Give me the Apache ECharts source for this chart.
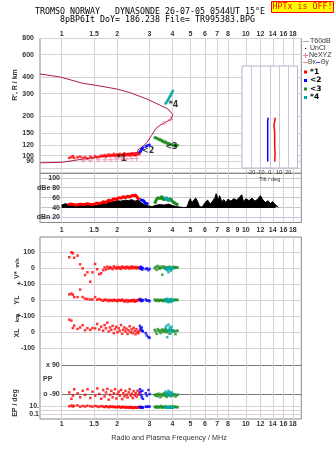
<!DOCTYPE html>
<html>
<head>
<meta charset="utf-8">
<script src="https://cdn.jsdelivr.net/npm/echarts@6.0.0/dist/echarts.min.js"></script>
<style>
html, body { margin: 0; padding: 0; background: #fff; }
#chart { width: 335px; height: 451px; }
</style>
</head>
<body>
<div id="chart"></div>
<script>
// axis ticks
var freqTicks = [1, 1.5, 2, 3, 4, 5, 6, 7, 8, 10, 12, 14, 16, 18];
var freqTicksMid = [1, 1.5, 2, 3, 4, 5, 6, 7, 8, 9, 10, 12, 14, 16, 18];
var heightTicks = [80, 90, 100, 120, 150, 200, 300, 400, 600, 800];
var ampTicks = [20, 40, 60, 80, 100];
var tiltTicks = [-20, -10, 0, 10, 20];

// R / R' profile line (MHz, km)
var profFreq = [0.763, 0.979, 1.305, 1.614, 1.995, 2.348, 2.903, 3.415, 3.774, 4.017, 3.917, 3.635, 3.415, 3.249, 3.078, 2.903, 2.727, 2.595, 2.578, 2.072, 1.614, 1.257, 1.004, 0.763];
var profHeight = [426, 404, 361, 344, 326, 306, 273, 245, 229, 207, 190, 180, 171, 162, 143, 126, 116, 111, 105.5, 102, 97.4, 93.2, 88.8, 87.9];

// NeXYZ markers
var neFreq = [1.31, 1.43, 1.58, 1.72, 1.85, 1.98, 2.12, 2.26, 2.4, 2.55, 3.6, 3.9];
var neHeight = [92, 92, 93, 93, 93, 94, 94, 94, 95, 95, 178, 190];

// echo mode 1 (red)
var m1Freq = [1.10, 1.13, 1.15, 1.17, 1.22, 1.26, 1.30, 1.34, 1.38, 1.43, 1.47, 1.52, 1.56, 1.60, 1.64, 1.68, 1.71, 1.74, 1.77, 1.80, 1.83, 1.86, 1.89, 1.92, 1.95, 1.98, 2.01, 2.04, 2.07, 2.10, 2.13, 2.16, 2.19, 2.22, 2.25, 2.28, 2.31, 2.34, 2.37, 2.40, 2.43, 2.46, 2.49, 2.52, 2.55, 2.58, 2.61, 2.64];
var m1Height = [96, 97, 99, 96, 97, 98, 96, 97, 95, 98, 96, 99, 97, 98, 100, 99, 101, 98, 100, 102, 99, 101, 100, 103, 99, 101, 102, 100, 103, 101, 99, 102, 104, 100, 102, 101, 103, 100, 102, 104, 101, 103, 102, 100, 104, 102, 105, 103];
var m1V = [69, 100, 94, 66, 79, 25, 0, -42, -25, -84, -25, 27, -6, -37, -31, -12, 5, -8, 10, -3, 8, 2, -5, 12, 4, -2, 9, 0, 6, -4, 11, 3, 7, -1, 10, 2, 8, -3, 5, 12, 0, 7, 3, 9, -2, 6, 4, 1];
var m1YL = [37, 42, 35, 20, 20, 67, 20, 10, 8, 5, 5, 20, 4, 8, 2, -3, 5, 0, 3, -5, 2, 0, -4, 4, -2, 1, -6, 3, 0, -3, 5, -1, -8, -2, 2, -10, -3, 0, -7, 1, -4, 3, -9, 0, -5, 2, -1, 4];
var m1XL = [79, 73, 27, 42, 21, 30, 44, 13, 26, 15, 27, 24, 52, 18, 35, 10, 45, 25, 60, 5, 30, 15, 40, -5, 20, 35, 0, 25, 10, 45, -8, 15, 30, 5, 22, -10, 12, 38, 0, 18, -5, 28, 8, -12, 20, 3, -6, 10];
var m1PP = [-80, -120, -100, -60, -85, -110, -70, -95, -60, -115, -75, -100, -55, -90, -120, -65, -105, -80, -58, -125, -95, -70, -110, -85, -60, -118, -90, -75, -100, -65, -122, -85, -105, -70, -95, -112, -80, -60, -100, -88, -115, -72, -98, -85, -108, -70, -95, -82];
var m1EP = [12, 18, 10, 15, 20, 8, 14, 10, 16, 12, 9, 14, 11, 8, 13, 10, 7, 12, 9, 6, 11, 8, 10, 7, 9, 6, 8, 10, 7, 5, 9, 6, 8, 5, 7, 6, 4.5, 8, 5, 7, 4, 6, 5, 7, 4.5, 6, 5, 8];

// echo mode 2 (blue)
var m2Freq = [2.66, 2.68, 2.70, 2.72, 2.74, 2.76, 2.86, 2.90, 2.96, 3.00];
var m2Height = [106, 108, 110, 112, 113, 115, 117, 119, 120, 121];
var m2V = [5, -3, 10, 0, -8, 2, -5, 0, -12, -3];
var m2YL = [8, 2, -5, 0, 3, -2, 5, -3, 0, -6];
var m2XL = [40, 25, 15, 30, 10, 5, -5, -20, -30, -35];
var m2PP = [-60, -75, -95, -110, -70, -120, -85, -100, -65, -90];
var m2EP = [8, 6, 5, 7, 5, 6, 9, 8, 10, 9];

// echo mode 3 (green)
var m3Freq = [3.20, 3.24, 3.28, 3.32, 3.36, 3.40, 3.44, 3.48, 3.52, 3.56, 3.60, 3.64, 3.68, 3.72, 3.76, 3.80, 3.85, 3.90, 3.95, 4.00, 4.05, 4.10, 4.15, 4.20, 4.26];
var m3Height = [137, 138, 136, 135, 133, 134, 131, 132, 128, 130, 127, 126, 128, 124, 125, 123, 124, 121, 122, 120, 121, 119, 120, 119, 120];
var m3V = [0, 8, -10, 15, 5, -3, 10, 2, -40, 12, 4, -2, 8, 0, 6, -4, 10, 3, -1, 5, 9, 2, 7, 4, 6];
var m3YL = [5, -3, 0, 4, -5, 2, -2, 3, 0, -6, 1, 4, -3, 0, 2, -4, 1, 3, -2, 0, 2, 4, 1, 3, 2];
var m3XL = [15, 5, -10, 20, 8, 12, -5, 10, 18, 2, 14, 6, 20, 0, 12, 8, -8, 15, 10, 4, 12, 6, -12, 8, 10];
var m3PP = [-95, -100, -92, -105, -88, -98, -110, -90, -100, -95, -85, -102, -96, -108, -90, -98, -94, -104, -88, -100, -96, -92, -106, -98, -94];
var m3EP = [8, 6, 12, 5, 7, 10, 6, 14, 5, 7, 9, 6, 11, 5, 7, 6, 9, 7, 5, 12, 6, 9, 7, 8, 6];

// echo mode 4 (teal)
var m4Freq = [3.66, 3.70, 3.74, 3.77, 3.80, 3.83, 3.86, 3.89, 3.92, 3.95, 3.98, 4.02];
var m4Height = [252, 256, 262, 267, 272, 278, 284, 289, 295, 302, 308, 316];
var m4V = [-5, 3, -12, 0, -25, 6, -8, 2, -15, 4, -3, 0];
var m4YL = [5, -8, 10, -3, -12, 2, -6, 8, -10, 0, 4, -4];
var m4XL = [25, 40, -30, 10, 48, 15, 30, -8, 20, 35, 5, 12];
var m4PP = [-75, -85, -95, -80, -70, -100, -90, -78, -88, -96, -82, -92];
var m4EP = [7, 6, 8, 5, 6, 7, 5, 8, 6, 7, 5, 6];

// amplitudes (dB)
var noiseFreq = [1.0, 1.05, 1.1, 1.15, 1.2, 1.25, 1.3, 1.35, 1.4, 1.45, 1.5, 1.55, 1.6, 1.65, 1.7, 1.75, 1.8, 1.85, 1.9, 1.95, 2.0, 2.1, 2.2, 2.3, 2.4, 2.5, 2.6, 2.7, 2.8, 2.9, 3.0, 3.1, 3.2, 3.4, 3.6, 3.8, 4.0, 4.2, 4.4, 4.6, 4.8, 4.9, 5.0, 5.1, 5.2, 5.35, 5.5, 5.6, 5.8, 6.0, 6.2, 6.4, 6.6, 6.8, 6.9, 7.1, 7.2, 7.4, 7.6, 7.8, 8.0, 8.3, 8.6, 8.9, 9.2, 9.5, 9.7, 10.0, 10.4, 10.8, 11.2, 11.6, 12.0, 12.4, 12.8, 13.2, 13.6, 14.0, 14.4, 14.8, 15.0];
var noiseDb = [45, 48, 44, 47, 46, 48, 44, 47, 45, 48, 46, 44, 47, 48, 50, 49, 52, 51, 53, 52, 54, 53, 55, 54, 56, 53, 55, 50, 46, 44, 43, 42, 44, 46, 45, 47, 44, 42, 41, 40, 41, 52, 58, 48, 55, 59, 50, 42, 41, 50, 55, 47, 53, 60, 68, 55, 64, 52, 56, 50, 57, 53, 58, 55, 60, 66, 52, 58, 54, 59, 53, 57, 64, 55, 50, 54, 48, 52, 46, 43, 40];
var amp1Freq = [1.08, 1.14, 1.2, 1.26, 1.32, 1.38, 1.44, 1.5, 1.56, 1.62, 1.68, 1.74, 1.8, 1.86, 1.92, 1.98, 2.04, 2.1, 2.16, 2.22, 2.28, 2.34, 2.4, 2.46, 2.52, 2.58, 2.64];
var amp1Db = [46, 47, 45, 47, 46, 48, 46, 47, 49, 48, 52, 50, 55, 53, 58, 56, 60, 59, 62, 60, 63, 61, 64, 62, 65, 60, 56];
var amp2Freq = [2.66, 2.72, 2.78, 2.84, 2.9, 2.96];
var amp2Db = [56, 52, 54, 49, 51, 47];
var amp3Freq = [3.2, 3.26, 3.32, 3.38, 3.44, 3.5, 3.56, 3.62, 3.7, 3.8, 3.9, 4.0, 4.1, 4.2, 4.3];
var amp3Db = [48, 55, 60, 62, 58, 63, 56, 60, 57, 55, 58, 52, 49, 47, 45];
var amp4Freq = [3.6, 3.66, 3.72, 3.78, 3.84, 3.9];
var amp4Db = [58, 62, 60, 55, 59, 54];

// tilt inset (deg, km)
var tiltXHeight = [194, 181, 170, 150, 120, 100, 89];
var tiltXDeg = [6.0, 5.3, 4.6, 5.3, 5.3, 5.8, 5.3];
var tiltYHeight = [194, 186, 150, 120, 89];
var tiltYDeg = [-1.6, -2.2, -2.2, -2.2, -2.2];

var FMIN = 0.763, FMAX = 20.0;
var RED = '#ff0000', BLUE = '#0000ff', GREEN = '#1e8c1e', TEAL = '#00a8a8';
var GRIDC = '#d8d0d6';
var FRAME = '#888888';
var lab = { fontSize: 7, fontWeight: 'bold', color: '#333', fontFamily: 'Liberation Sans' };

function pts(xs, ys) {
  return xs.map(function (x, i) { return [x, ys[i]]; });
}
function fmtF(v) { return String(+(+v).toFixed(2)); }

function freqAxis(gi, opts) {
  var ax = {
    type: 'log', logBase: 10, gridIndex: gi, min: FMIN, max: FMAX,
    axisLine: { show: false },
    axisTick: { show: false, customValues: freqTicks },
    axisLabel: { show: false },
    splitLine: { show: true, lineStyle: { color: GRIDC, width: 1 } },
    minorSplitLine: { show: false }
  };
  return Object.assign(ax, opts || {});
}

function scat(xi, yi, data, color, size) {
  return {
    type: 'scatter', xAxisIndex: xi, yAxisIndex: yi, data: data,
    symbol: 'rect', symbolSize: size || 2.5, itemStyle: { color: color },
    z: 4, silent: true
  };
}

var modes = [
  { f: m1Freq, h: m1Height, v: m1V, yl: m1YL, xl: m1XL, pp: m1PP, ep: m1EP, c: RED },
  { f: m2Freq, h: m2Height, v: m2V, yl: m2YL, xl: m2XL, pp: m2PP, ep: m2EP, c: BLUE },
  { f: m3Freq, h: m3Height, v: m3V, yl: m3YL, xl: m3XL, pp: m3PP, ep: m3EP, c: GREEN },
  { f: m4Freq, h: m4Height, v: m4V, yl: m4YL, xl: m4XL, pp: m4PP, ep: m4EP, c: TEAL }
];

var series = [];
// height panel
series.push({
  type: 'line', xAxisIndex: 0, yAxisIndex: 0, data: pts(profFreq, profHeight),
  showSymbol: false, lineStyle: { color: '#b01c48', width: 1 }, z: 3, silent: true
});
modes.forEach(function (m) {
  series.push(scat(0, 0, pts(m.f, m.h), m.c, 2.5));
});
series.push({
  type: 'scatter', xAxisIndex: 0, yAxisIndex: 0, data: pts(neFreq, neHeight),
  symbol: 'path://M2,0H3V2H5V3H3V5H2V3H0V2H2Z', symbolSize: 5,
  itemStyle: { color: '#f07aa0' }, z: 5, silent: true
});
series.push({
  type: 'scatter', xAxisIndex: 0, yAxisIndex: 0, symbolSize: 1,
  itemStyle: { color: 'rgba(0,0,0,0)' }, z: 6, silent: true,
  label: { show: true, position: 'inside', formatter: '{b}', color: '#000', fontSize: 8, fontWeight: 'bold', fontFamily: 'DejaVu Sans' },
  data: [
    { name: '*1', value: [2.116, 94.4] },
    { name: '<2', value: [2.95, 109] },
    { name: '<3', value: [3.95, 117] },
    { name: '*4', value: [4.05, 248] }
  ]
});
// amplitude panel
series.push({
  type: 'line', xAxisIndex: 1, yAxisIndex: 1, data: pts(noiseFreq, noiseDb),
  showSymbol: false, lineStyle: { color: '#000', width: 1 },
  areaStyle: { color: '#000', opacity: 1, origin: 39 }, z: 3, silent: true
});
[[amp1Freq, amp1Db, RED], [amp2Freq, amp2Db, BLUE], [amp3Freq, amp3Db, GREEN], [amp4Freq, amp4Db, TEAL]].forEach(function (a) {
  series.push({
    type: 'line', xAxisIndex: 1, yAxisIndex: 1, data: pts(a[0], a[1]),
    showSymbol: false, lineStyle: { color: a[2], width: 3 }, z: 4, silent: true
  });
});
// V*, YL, XL, PP, EP
modes.forEach(function (m) {
  series.push(scat(3, 3, pts(m.f, m.v), m.c));
  series.push(scat(4, 4, pts(m.f, m.yl), m.c));
  series.push(scat(5, 5, pts(m.f, m.xl), m.c));
  series.push(scat(6, 6, pts(m.f, m.pp), m.c));
  series.push(scat(7, 7, pts(m.f, m.ep), m.c));
});
// tilt inset
series.push({
  type: 'line', xAxisIndex: 8, yAxisIndex: 8, data: pts(tiltYDeg, tiltYHeight),
  showSymbol: false, lineStyle: { color: BLUE, width: 1.5 }, z: 6, silent: true
});
series.push({
  type: 'line', xAxisIndex: 8, yAxisIndex: 8, data: pts(tiltXDeg, tiltXHeight),
  showSymbol: false, lineStyle: { color: RED, width: 1.5 }, z: 6, silent: true
});

function vAxis(gi, min, max, ticks, fmt, opts) {
  var ax = {
    type: 'value', gridIndex: gi, min: min, max: max,
    axisLine: { show: false },
    axisTick: { show: false, customValues: ticks },
    axisLabel: Object.assign({ customValues: ticks, margin: 5, formatter: fmt }, lab),
    splitLine: { show: true, lineStyle: { color: GRIDC, width: 1 } }
  };
  return Object.assign(ax, opts || {});
}

function txt(x, y, s, o) {
  o = o || {};
  return {
    type: 'text', x: x, y: y, rotation: o.rot || 0, z: 10,
    style: {
      text: s, fill: o.color || '#333', align: o.align || 'left', verticalAlign: 'middle',
      fontSize: o.size || 7, fontWeight: o.weight || 'bold', fontFamily: o.family || 'Liberation Sans'
    }
  };
}

var mono = 'DejaVu Sans Mono';
var graphics = [
  txt(150, 12.3, 'TROMSO NORWAY   DYNASONDE 26-07-05 0544UT 15\u00b0E', { align: 'center', size: 8.3, weight: 'normal', family: mono, color: '#000' }),
  txt(157.5, 20.3, '8pBP6It DoY= 186.238 File= TR995383.BPG', { align: 'center', size: 8.3, weight: 'normal', family: mono, color: '#000' }),
  { type: 'rect', shape: { x: 271.5, y: 1.5, width: 62, height: 11 }, style: { fill: '#ffff00', stroke: '#ff0000', lineWidth: 1 }, z: 9 },
  txt(302.5, 7.3, 'HPTx is OFF!', { align: 'center', size: 8.3, weight: 'normal', family: mono, color: '#ff0000' }),
  txt(15, 85, "R', R / km", { align: 'center', rot: Math.PI / 2 }),
  txt(17, 275, 'V*', { align: 'center', rot: Math.PI / 2 }),
  txt(17, 263, 'm/s', { align: 'center', rot: Math.PI / 2, size: 5.5 }),
  txt(17, 300, 'YL', { align: 'center', rot: Math.PI / 2 }),
  txt(17, 318, 'km', { align: 'center', rot: Math.PI / 2, size: 6 }),
  txt(17, 333, 'XL', { align: 'center', rot: Math.PI / 2 }),
  txt(15, 403, 'EP / deg', { align: 'center', rot: Math.PI / 2 }),
  txt(43, 379.5, 'PP', {}),
  txt(169, 438.5, 'Radio and Plasma Frequency / MHz', { align: 'center', weight: 'normal', size: 7.2 }),
  // legend
  { type: 'line', shape: { x1: 303, y1: 41.5, x2: 309, y2: 41.5 }, style: { stroke: '#aaa', lineWidth: 1 }, z: 9 },
  txt(310, 41.5, 'T60dB', { weight: 'normal' }),
  { type: 'rect', shape: { x: 305, y: 48, width: 1, height: 1 }, style: { fill: '#000' }, z: 9 },
  txt(310, 48.5, 'UnCl', { weight: 'normal' }),
  { type: 'line', shape: { x1: 303, y1: 55.5, x2: 308, y2: 55.5 }, style: { stroke: '#f07aa0', lineWidth: 1 }, z: 9 },
  { type: 'line', shape: { x1: 305.5, y1: 53, x2: 305.5, y2: 58 }, style: { stroke: '#f07aa0', lineWidth: 1 }, z: 9 },
  txt(309, 55.5, 'NeXYZ', { weight: 'normal' }),
  { type: 'line', shape: { x1: 303, y1: 62.5, x2: 307, y2: 62.5 }, style: { stroke: '#f07aa0', lineWidth: 1 }, z: 9 },
  txt(307.5, 62.5, '\u0398x', { weight: 'normal', size: 6.5 }),
  { type: 'line', shape: { x1: 316, y1: 62.5, x2: 320, y2: 62.5 }, style: { stroke: '#4040ff', lineWidth: 1 }, z: 9 },
  txt(320.5, 62.5, '\u0398y', { weight: 'normal', size: 6.5 })
];
[['*1', RED, 72], ['<2', BLUE, 80.5], ['<3', GREEN, 89], ['*4', TEAL, 97.5]].forEach(function (l) {
  graphics.push({ type: 'rect', shape: { x: 304, y: l[2] - 1.5, width: 3, height: 3 }, style: { fill: l[1] }, z: 9 });
  graphics.push(txt(310, l[2], l[0], { family: 'DejaVu Sans', size: 7.5, color: '#000' }));
});

var option = {
  animation: false,
  backgroundColor: '#ffffff',
  grid: [
    { left: 40, right: 33.7, top: 38.5, height: 134.8, show: true, borderColor: FRAME, borderWidth: 1, backgroundColor: 'transparent' },
    { left: 40, right: 33.7, top: 173.3, height: 49.2, show: true, borderColor: FRAME, borderWidth: 1, backgroundColor: 'transparent' },
    { left: 40, right: 33.7, top: 237, height: 182, show: true, borderColor: FRAME, borderWidth: 1, backgroundColor: 'transparent' },
    { left: 40, right: 33.7, top: 237, height: 47.3 },
    { left: 40, right: 33.7, top: 284.3, height: 32 },
    { left: 40, right: 33.7, top: 316.3, height: 32 },
    { left: 61.7, right: 33.7, top: 360, height: 40.4 },
    { left: 40, right: 33.7, top: 400.4, height: 18.6 },
    { left: 242, right: 37.5, top: 66, height: 102, show: true, borderColor: '#b4b4cc', borderWidth: 1, backgroundColor: '#ffffff', z: 3 }
  ],
  xAxis: [
    freqAxis(0, { position: 'top', axisLabel: Object.assign({ show: true, customValues: freqTicks, margin: 1, formatter: fmtF }, lab) }),
    freqAxis(1, { position: 'bottom', axisLabel: Object.assign({ show: true, customValues: freqTicksMid, margin: 4, formatter: fmtF }, lab) }),
    freqAxis(2, { position: 'bottom', axisLabel: Object.assign({ show: true, customValues: freqTicks, margin: 2, formatter: fmtF }, lab) }),
    freqAxis(3, { show: false }),
    freqAxis(4, { show: false }),
    freqAxis(5, { show: false }),
    freqAxis(6, { show: false, min: 1.0 }),
    freqAxis(7, { show: false }),
    {
      type: 'value', gridIndex: 8, min: -30, max: 30, z: 3,
      axisLine: { show: false },
      axisTick: { show: false, customValues: tiltTicks },
      axisLabel: { customValues: tiltTicks, margin: 1, fontSize: 5.5, color: '#333', fontFamily: 'Liberation Sans' },
      splitLine: { show: true, lineStyle: { color: '#c8c8d4', width: 1 } },
      name: 'Tilt / deg', nameLocation: 'middle', nameGap: 8,
      nameTextStyle: { fontSize: 5.5, color: '#333', fontFamily: 'Liberation Sans' }
    }
  ],
  yAxis: [
    {
      type: 'log', logBase: 10, gridIndex: 0, min: 73, max: 800,
      axisLine: { show: false },
      axisTick: { show: false, customValues: heightTicks },
      axisLabel: Object.assign({ customValues: heightTicks, margin: 6 }, lab),
      splitLine: { show: true, lineStyle: { color: GRIDC, width: 1 } },
      minorSplitLine: { show: false }
    },
    vAxis(1, 10, 109, ampTicks, function (v) {
      if (v === 80) return 'dBe 80';
      if (v === 20) return 'dBn 20';
      return String(v);
    }, {
      offset: -25,
      splitLine: { show: true, lineStyle: { color: ['#c4c4ee', '#c8c8c8', '#c8c8c8', '#c8c8c8', '#c8c8c8'], width: 1 } }
    }),
    { type: 'value', gridIndex: 2, show: false, min: 0, max: 1, splitLine: { show: false } },
    vAxis(3, -100, 195.6, [0, 100], function (v) { return String(v); }),
    vAxis(4, -100, 100, [-100, 0, 100], function (v) { return v === 0 ? '0' : '+-100'; }),
    vAxis(5, -100, 100, [-100, 0], function (v) { return String(v); }),
    vAxis(6, -130, 123.2, [-90, 90], function (v) { return v > 0 ? 'x 90' : 'o -90'; }, {
      axisLabel: Object.assign({ customValues: [-90, 90], margin: 2, formatter: function (v) { return v > 0 ? 'x 90' : 'o -90'; } }, lab),
      splitLine: { show: true, lineStyle: { color: '#777', width: 1 } }
    }),
    {
      type: 'log', logBase: 10, gridIndex: 7, min: 0.00624, max: 366,
      axisLine: { show: false },
      axisTick: { show: false, customValues: [0.1, 1, 10] },
      axisLabel: Object.assign({ customValues: [0.1, 10], margin: 1, formatter: function (v) { return v > 1 ? '10.' : '0.1'; } }, lab),
      splitLine: { show: true, lineStyle: { color: GRIDC, width: 1 } },
      minorSplitLine: { show: false }
    },
    { type: 'log', logBase: 10, gridIndex: 8, min: 79.4, max: 486, show: false, splitLine: { show: false } }
  ],
  graphic: graphics,
  series: series
};

var chart = echarts.init(document.getElementById('chart'));
chart.setOption(option);
</script>
</body>
</html>
